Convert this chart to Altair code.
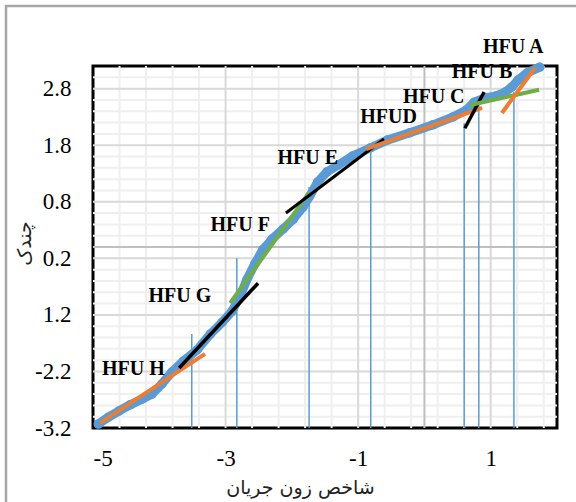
import altair as alt
import pandas as pd

# Flow zone indicator (x) against quantile (y)
curve_x = [-4.92, -4.77, -4.61, -4.44, -4.26, -4.11, -3.96, -3.81, -3.64, -3.43,
           -3.23, -3.05, -2.90, -2.78, -2.68, -2.56, -2.44, -2.30, -2.13, -1.98,
           -1.83, -1.73, -1.61, -1.47, -1.30, -1.08, -0.82, -0.56, -0.22, 0.13,
           0.43, 0.63, 0.75, 0.90, 1.08, 1.22, 1.32, 1.41, 1.55, 1.74]
curve_y = [-3.13, -3.01, -2.90, -2.79, -2.69, -2.60, -2.42, -2.21, -2.02, -1.82,
           -1.54, -1.33, -1.13, -0.87, -0.58, -0.30, -0.05, 0.14, 0.32, 0.49,
           0.71, 0.90, 1.15, 1.33, 1.45, 1.61, 1.75, 1.89, 2.02, 2.16,
           2.30, 2.42, 2.56, 2.63, 2.67, 2.74, 2.83, 2.95, 3.08, 3.18]

# Boundaries between hydraulic flow units
bound_x = [-3.51, -2.83, -1.74, -0.81, 0.60, 0.82, 1.35]
bound_top = [-1.54, -0.20, 1.06, 1.72, 2.19, 2.56, 2.74]

# Fitted straight segment for each flow unit
seg_unit = ["H", "G", "F", "E", "D", "C", "B", "A"]
seg_x1 = [-4.89, -3.70, -2.93, -2.09, -0.88, 0.61, 0.69, 1.17]
seg_y1 = [-3.11, -2.14, -0.99, 0.60, 1.73, 2.10, 2.51, 2.37]
seg_x2 = [-3.31, -2.51, -1.74, -0.61, 0.87, 0.90, 1.73, 1.67]
seg_y2 = [-1.89, -0.64, 0.96, 1.91, 2.46, 2.74, 2.78, 3.17]
seg_color = ["#ED7D31", "#000000", "#70AD47", "#000000",
             "#ED7D31", "#000000", "#70AD47", "#ED7D31"]
seg_width = [4, 3.5, 4, 3, 4, 3.5, 4, 4]

# Unit labels
label_text = ["HFU H", "HFU G", "HFU F", "HFU E", "HFUD", "HFU C", "HFU B", "HFU A"]
label_x = [-4.39, -3.69, -2.78, -1.76, -0.54, 0.14, 0.87, 1.34]
label_y = [-2.15, -0.87, 0.39, 1.58, 2.29, 2.66, 3.09, 3.54]

# Axis ticks and gridlines
x_ticks = [-5, -3, -1, 1]
y_ticks = [-3.2, -2.2, -1.2, -0.2, 0.8, 1.8, 2.8]
x_minor = [-4.6, -4.2, -3.8, -3.4, -2.6, -2.2, -1.8, -1.4, -0.6, -0.2, 0.2, 0.6, 1.4, 1.8]
x_major = [-3, -1, 1]
y_minor = [-3.0, -2.8, -2.6, -2.4, -2.0, -1.8, -1.6, -1.4, -1.0, -0.8, -0.6, -0.4,
           0.2, 0.4, 0.6, 1.0, 1.2, 1.4, 1.6, 2.0, 2.2, 2.4, 2.6, 3.0]
y_major = [-2.2, -1.2, -0.2, 0.8, 1.8, 2.8]

X_DOM = [-5, 2]
Y_DOM = [-3.2, 3.2]
SERIF = "Liberation Serif"
ARABIC = "DejaVu Sans"

xs = alt.Scale(domain=X_DOM, nice=False, zero=False)
ys = alt.Scale(domain=Y_DOM, nice=False, zero=False)

x_axis = alt.Axis(
    values=x_ticks, grid=False, ticks=False, domain=False,
    labelFont=SERIF, labelFontSize=23, labelColor="black", labelPadding=19,
    labelExpr="replace(datum.label, '\u2212', '-')",
    title="شاخص زون جریان", titleFont=ARABIC, titleFontSize=19,
    titleFontWeight="normal", titleColor="#222222",
    titleX=207, titleY=59, titleAlign="center", titleBaseline="middle",
)
y_axis = alt.Axis(
    values=y_ticks, grid=False, ticks=False, domain=False,
    labelFont=SERIF, labelFontSize=23, labelColor="black", labelPadding=22,
    labelExpr="datum.value == -0.2 ? '0.2' : datum.value == -1.2 ? '1.2' : "
              "replace(format(datum.value, '.1f'), '\u2212', '-')",
    title="چندک", titleFont=ARABIC, titleFontSize=19, titleFontWeight="normal",
    titleColor="#222222", titleAngle=270,
    titleX=-69, titleY=177, titleAlign="center", titleBaseline="middle",
)


def X(field):
    return alt.X(field, scale=xs, axis=x_axis)


def Y(field):
    return alt.Y(field, scale=ys, axis=y_axis)


curve = pd.DataFrame({"x": curve_x, "y": curve_y})
bounds = pd.DataFrame({"x": bound_x, "y": [Y_DOM[0]] * len(bound_x), "top": bound_top})
segs = pd.DataFrame({"unit": seg_unit, "x1": seg_x1, "y1": seg_y1, "x2": seg_x2,
                     "y2": seg_y2, "color": seg_color, "w": seg_width})
labels = pd.DataFrame({"t": label_text, "x": label_x, "y": label_y})


def vgrid(values, color, width):
    return alt.Chart(pd.DataFrame({"x": values})).mark_rule(
        color=color, strokeWidth=width).encode(x=X("x:Q"))


def hgrid(values, color, width):
    return alt.Chart(pd.DataFrame({"y": values})).mark_rule(
        color=color, strokeWidth=width).encode(y=Y("y:Q"))


grid = (vgrid(x_minor, "#EFEFEF", 2) + hgrid(y_minor, "#EFEFEF", 2)
        + vgrid(x_major, "#D9D9D9", 2) + hgrid(y_major, "#D9D9D9", 2)
        + vgrid([0], "#BFBFBF", 2) + hgrid([0], "#BFBFBF", 2))

bound_rules = alt.Chart(bounds).mark_rule(color="#5B9BD5", strokeWidth=1.5).encode(
    x=X("x:Q"), y=Y("y:Q"), y2="top:Q",
)

curve_line = alt.Chart(curve).mark_line(
    color="#5B9BD5", strokeWidth=9, strokeCap="round", strokeJoin="round").encode(
    x=X("x:Q"), y=Y("y:Q"),
)
curve_pts = alt.Chart(curve).mark_circle(color="#5B9BD5", opacity=1, size=90).encode(
    x=X("x:Q"), y=Y("y:Q"),
)

trend = alt.Chart(segs).mark_rule().encode(
    x=X("x1:Q"), y=Y("y1:Q"),
    x2="x2:Q", y2="y2:Q",
    color=alt.Color("color:N", scale=None),
    strokeWidth=alt.StrokeWidth("w:Q", scale=None),
)

unit_text = alt.Chart(labels).mark_text(
    font=SERIF, fontSize=20, fontWeight="bold", color="black",
    align="center", baseline="middle").encode(
    x=X("x:Q"), y=Y("y:Q"), text="t:N",
)

# Outer chart-area frame (left and top edges)
one = pd.DataFrame({"k": [0]})
frame = (alt.Chart(one).mark_rule(color="#A6A6A6", strokeWidth=2.5).encode(
            x=alt.value(-87), y=alt.value(-61), y2=alt.value(436))
         + alt.Chart(one).mark_rule(color="#A6A6A6", strokeWidth=2.5).encode(
            x=alt.value(-88), x2=alt.value(483), y=alt.value(-60)))

chart = alt.layer(
    grid, bound_rules, curve_line, curve_pts, trend, unit_text, frame
).properties(
    width=464, height=362,
    autosize=alt.AutoSizeParams(type="none"),
    padding={"left": 93, "top": 66, "right": 19, "bottom": 74},
    background="white",
).configure_view(stroke="black", strokeWidth=3)

chart.save("out.html", embed_options={"renderer": "svg", "actions": False})
